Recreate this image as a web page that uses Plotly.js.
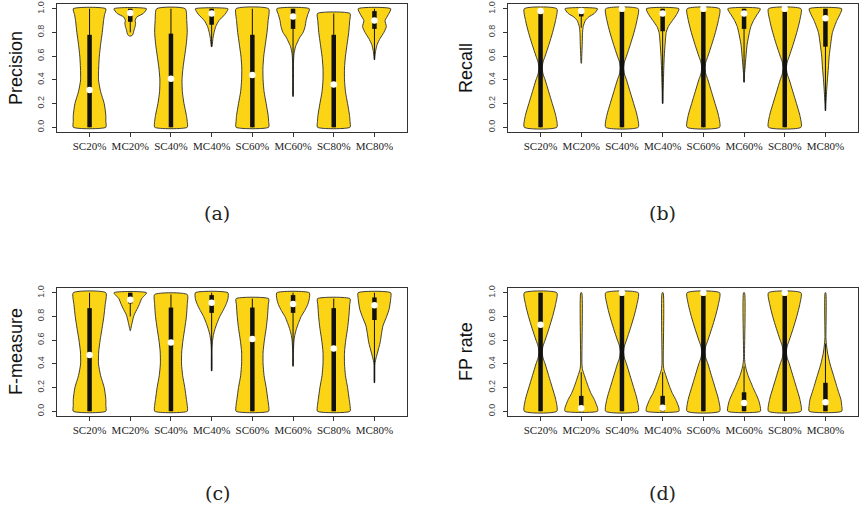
<!DOCTYPE html>
<html>
<head>
<meta charset="utf-8">
<script src="https://cdn.plot.ly/plotly-3.0.1.min.js"></script>
<style>html,body{margin:0;padding:0;background:#fff;}#chart{width:860px;height:512px;}</style>
</head>
<body>
<div id="chart"></div>
<script>
// ---------- data ----------
const categories = ['SC20%','MC20%','SC40%','MC40%','SC60%','MC60%','SC80%','MC80%'];
const yTicks = [0, 0.2, 0.4, 0.6, 0.8, 1.0];
const yTickText = ['0.0','0.2','0.4','0.6','0.8','1.0'];
const panelTitles = ['Precision','Recall','F-measure','FP rate'];
const panelLabels = ['(a)','(b)','(c)','(d)'];

// (a) Precision: density profile levels and relative widths per violin
const precLevels = [
  [0,0.05,0.1,0.2,0.3,0.4,0.5,0.6,0.7,0.8,0.9,0.95,1.0],
  [0.77,0.78,0.8,0.82,0.85,0.88,0.9,0.93,0.96,1.0],
  [0,0.05,0.1,0.2,0.3,0.4,0.5,0.6,0.7,0.8,0.9,1.0],
  [0.68,0.7,0.75,0.8,0.85,0.9,0.95,0.98,1.0],
  [0,0.05,0.1,0.2,0.3,0.4,0.5,0.6,0.7,0.8,0.9,1.0],
  [0.26,0.4,0.55,0.62,0.68,0.72,0.76,0.8,0.85,0.9,0.95,1.0],
  [0,0.05,0.1,0.2,0.3,0.4,0.5,0.6,0.7,0.8,0.9,0.96],
  [0.57,0.6,0.65,0.7,0.75,0.8,0.85,0.9,0.95,1.0]
];
const precWidths = [
  [1,1,1,0.9,0.68,0.55,0.56,0.6,0.68,0.78,0.86,0.92,1.0],
  [0.05,0.15,0.2,0.23,0.3,0.33,0.3,0.4,0.8,1.0],
  [1,1,0.95,0.8,0.7,0.68,0.74,0.84,0.94,1.0,0.97,0.88],
  [0.02,0.04,0.08,0.15,0.25,0.45,0.8,0.95,1.0],
  [1,1,0.97,0.85,0.72,0.66,0.65,0.7,0.8,0.9,0.97,1.0],
  [0.01,0.02,0.03,0.06,0.15,0.28,0.42,0.62,0.74,0.8,0.9,1.0],
  [1,1,0.97,0.85,0.72,0.66,0.66,0.72,0.82,0.92,0.98,1.0],
  [0.01,0.03,0.08,0.17,0.35,0.58,0.73,0.65,0.85,1.0]
];
const precQ1 = [0,0.89,0,0.865,0,0.83,0,0.83];
const precQ3 = [0.78,1.0,0.79,1.0,0.78,1.0,0.78,0.98];
const precMed = [0.315,0.965,0.41,0.96,0.44,0.935,0.36,0.9];
const precWhLo = [0,0.8,0,0.68,0,0.26,0,0.57];
const precWhHi = [1.0,1.0,1.0,1.0,1.0,1.0,0.96,1.0];

// (b) Recall
const recLevels = [
  [0,0.1,0.2,0.3,0.4,0.45,0.5,0.55,0.6,0.7,0.8,0.9,1.0],
  [0.54,0.6,0.7,0.8,0.85,0.9,0.93,0.96,1.0],
  [0,0.1,0.2,0.3,0.4,0.45,0.5,0.55,0.6,0.7,0.8,0.9,1.0],
  [0.2,0.3,0.4,0.5,0.6,0.7,0.8,0.85,0.9,0.95,1.0],
  [0,0.1,0.2,0.3,0.4,0.45,0.5,0.55,0.6,0.7,0.8,0.9,1.0],
  [0.38,0.45,0.5,0.6,0.7,0.8,0.85,0.9,0.95,1.0],
  [0,0.1,0.2,0.3,0.4,0.45,0.5,0.55,0.6,0.7,0.8,0.9,1.0],
  [0.14,0.2,0.3,0.4,0.5,0.6,0.7,0.8,0.9,0.95,1.0]
];
const recWidths = [
  [1,0.93,0.72,0.5,0.28,0.15,0.1,0.15,0.28,0.52,0.74,0.92,1.0],
  [0.01,0.03,0.06,0.08,0.12,0.25,0.45,0.8,1.0],
  [1,0.93,0.72,0.5,0.28,0.15,0.1,0.15,0.28,0.52,0.74,0.92,1.0],
  [0.01,0.03,0.05,0.07,0.1,0.15,0.22,0.35,0.6,0.85,1.0],
  [1,0.93,0.72,0.5,0.28,0.15,0.1,0.15,0.28,0.52,0.74,0.92,1.0],
  [0.01,0.03,0.06,0.12,0.19,0.33,0.42,0.58,0.8,1.0],
  [1,0.93,0.72,0.5,0.28,0.15,0.1,0.15,0.28,0.52,0.74,0.92,1.0],
  [0.01,0.03,0.07,0.12,0.18,0.23,0.32,0.43,0.7,0.88,1.0]
];
const recQ1 = [0,0.935,0,0.81,0,0.83,0,0.68];
const recQ3 = [0.97,0.97,0.975,1.0,0.975,1.0,0.975,1.0];
const recMed = [0.98,0.98,1.0,0.96,1.0,0.96,1.0,0.92];
const recWhLo = [0,0.84,0,0.2,0,0.38,0,0.14];
const recWhHi = [1.0,1.0,1.0,1.0,1.0,1.0,1.0,1.0];

// (c) F-measure
const fmLevels = [
  [0,0.05,0.1,0.2,0.3,0.4,0.5,0.6,0.7,0.8,0.9,1.0],
  [0.68,0.7,0.75,0.81,0.87,0.9,0.95,1.0],
  [0,0.05,0.1,0.2,0.3,0.4,0.5,0.6,0.7,0.8,0.9,0.985],
  [0.34,0.5,0.55,0.6,0.65,0.7,0.75,0.8,0.85,0.9,0.95,1.0],
  [0,0.05,0.1,0.2,0.3,0.4,0.5,0.6,0.7,0.8,0.9,0.95],
  [0.38,0.5,0.6,0.65,0.7,0.75,0.8,0.85,0.9,0.95,1.0],
  [0,0.05,0.1,0.2,0.3,0.4,0.5,0.6,0.7,0.8,0.9,0.95],
  [0.24,0.4,0.45,0.5,0.58,0.65,0.72,0.8,0.86,0.95,1.0]
];
const fmWidths = [
  [1,1,1,0.9,0.68,0.55,0.56,0.65,0.77,0.88,0.96,1.0],
  [0.01,0.04,0.12,0.23,0.45,0.55,0.7,1.0],
  [1,1,0.95,0.85,0.72,0.65,0.66,0.74,0.85,0.95,1,1],
  [0.01,0.02,0.03,0.06,0.12,0.22,0.35,0.5,0.7,0.88,1.0,1.0],
  [1,1,0.95,0.85,0.72,0.66,0.66,0.74,0.85,0.93,0.98,1.0],
  [0.01,0.02,0.06,0.12,0.22,0.35,0.5,0.72,0.9,1.0,1.0],
  [1,1,0.95,0.85,0.72,0.66,0.66,0.74,0.85,0.93,0.98,1.0],
  [0.01,0.03,0.1,0.2,0.35,0.43,0.52,0.75,0.9,1.0,1.0]
];
const fmQ1 = [0,0.91,0,0.83,0,0.83,0,0.77];
const fmQ3 = [0.87,1.0,0.875,0.98,0.875,0.98,0.87,0.96];
const fmMed = [0.475,0.94,0.58,0.915,0.61,0.905,0.53,0.895];
const fmWhLo = [0,0.8,0,0.34,0,0.38,0,0.24];
const fmWhHi = [1.0,1.0,0.985,1.0,0.95,1.0,0.95,1.0];

// (d) FP rate
const fpLevels = [
  [0,0.1,0.2,0.3,0.4,0.45,0.5,0.55,0.6,0.7,0.8,0.9,1.0],
  [0,0.03,0.06,0.1,0.15,0.2,0.25,0.3,0.35,0.4,1.0],
  [0,0.1,0.2,0.3,0.4,0.45,0.5,0.55,0.6,0.7,0.8,0.9,1.0],
  [0,0.03,0.06,0.1,0.15,0.2,0.25,0.3,0.35,0.4,1.0],
  [0,0.1,0.2,0.3,0.4,0.45,0.5,0.55,0.6,0.7,0.8,0.9,1.0],
  [0,0.05,0.1,0.15,0.2,0.25,0.3,0.35,0.4,0.45,1.0],
  [0,0.1,0.2,0.3,0.4,0.45,0.5,0.55,0.6,0.7,0.8,0.9,1.0],
  [0,0.05,0.1,0.16,0.2,0.3,0.4,0.5,0.58,0.62,1.0]
];
const fpWidths = [
  [1,0.93,0.72,0.5,0.28,0.15,0.1,0.15,0.28,0.52,0.74,0.92,1.0],
  [1,1,0.92,0.8,0.6,0.45,0.32,0.2,0.08,0.04,0.03],
  [1,0.93,0.72,0.5,0.28,0.15,0.1,0.15,0.28,0.52,0.74,0.92,1.0],
  [1,1,0.92,0.8,0.6,0.45,0.32,0.2,0.08,0.04,0.03],
  [1,0.93,0.72,0.5,0.28,0.15,0.1,0.15,0.28,0.52,0.74,0.92,1.0],
  [1,0.98,0.88,0.72,0.55,0.4,0.25,0.14,0.06,0.03,0.03],
  [1,0.93,0.72,0.5,0.28,0.15,0.1,0.15,0.28,0.52,0.74,0.92,1.0],
  [1,1,0.95,0.81,0.72,0.5,0.28,0.12,0.05,0.03,0.02]
];
const fpQ1 = [0,0,0,0,0,0,0,0];
const fpQ3 = [1.0,0.13,0.975,0.13,0.975,0.16,0.975,0.24];
const fpMed = [0.73,0.025,1.0,0.03,1.0,0.07,1.0,0.075];
const fpWhLo = [0,0,0,0,0,0,0,0];
const fpWhHi = [1.0,0.33,1.0,0.33,1.0,0.38,1.0,0.57];

// ---------- build ----------
const panels = [
  {L:precLevels, W:precWidths, q1:precQ1, q3:precQ3, med:precMed, wl:precWhLo, wh:precWhHi},
  {L:recLevels, W:recWidths, q1:recQ1, q3:recQ3, med:recMed, wl:recWhLo, wh:recWhHi},
  {L:fmLevels, W:fmWidths, q1:fmQ1, q3:fmQ3, med:fmMed, wl:fmWhLo, wh:fmWhHi},
  {L:fpLevels, W:fpWidths, q1:fpQ1, q3:fpQ3, med:fpMed, wl:fpWhLo, wh:fpWhHi}
];
const W = 860, H = 512;
const boxes = [ // pixel boxes [left, right, top, bottom]
  [57, 407, 4, 132], [508, 858, 4, 132], [57, 407, 288, 416], [508, 858, 288, 416]
];
const titlePos = [[16, 68], [466, 68], [16, 352], [466, 352]];
const labelPos = [[217, 213], [662, 213], [217, 493], [662, 493]];
const FILL = '#FCD416';
const HALF = 0.4;

const traces = [];
const layout = {
  width: W, height: H, margin: {l:0, r:0, t:0, b:0},
  paper_bgcolor: '#fff', plot_bgcolor: '#fff', showlegend: false,
  annotations: []
};
panels.forEach((p, k) => {
  const xa = k === 0 ? 'x' : 'x' + (k + 1);
  const ya = k === 0 ? 'y' : 'y' + (k + 1);
  const xpos = categories.map((c, i) => i + 1);
  categories.forEach((c, i) => {
    const cx = xpos[i];
    const lv = p.L[i], wd = p.W[i];
    const xs = [], ys = [];
    for (let j = 0; j < lv.length; j++) { xs.push(cx + HALF * wd[j]); ys.push(lv[j]); }
    for (let j = lv.length - 1; j >= 0; j--) { xs.push(cx - HALF * wd[j]); ys.push(lv[j]); }
    xs.push(xs[0]); ys.push(ys[0]);
    traces.push({type:'scatter', mode:'lines', x:xs, y:ys, xaxis:xa, yaxis:ya,
      fill:'toself', fillcolor:FILL, line:{color:'#2a2a2a', width:0.9, shape:'spline', smoothing:0.6},
      hoverinfo:'skip'});
  });
  // whiskers
  const wx = [], wy = [], bx = [], by = [];
  categories.forEach((c, i) => {
    wx.push(xpos[i], xpos[i], null); wy.push(p.wl[i], p.wh[i], null);
    bx.push(xpos[i], xpos[i], null); by.push(p.q1[i], p.q3[i], null);
  });
  traces.push({type:'scatter', mode:'lines', x:wx, y:wy, xaxis:xa, yaxis:ya,
    line:{color:'#111', width:1}, hoverinfo:'skip'});
  traces.push({type:'scatter', mode:'lines', x:bx, y:by, xaxis:xa, yaxis:ya,
    line:{color:'#111', width:4.5}, hoverinfo:'skip'});
  traces.push({type:'scatter', mode:'markers', x:xpos, y:p.med, xaxis:xa, yaxis:ya,
    marker:{color:'#fff', size:6.5, line:{width:0}}, cliponaxis:false, hoverinfo:'skip'});

  const b = boxes[k];
  const xKey = k === 0 ? 'xaxis' : 'xaxis' + (k + 1);
  const yKey = k === 0 ? 'yaxis' : 'yaxis' + (k + 1);
  layout[xKey] = {
    domain:[b[0] / W, b[1] / W], anchor: ya, range:[0.2, 8.8],
    tickmode:'array', tickvals: xpos, ticktext: categories,
    ticks:'outside', ticklen:4, tickcolor:'#333', tickwidth:1,
    showline:true, mirror:true, linecolor:'#333', linewidth:1.2,
    showgrid:false, zeroline:false,
    tickfont:{family:'Liberation Serif, Times New Roman, serif', size:11, color:'#222'}
  };
  layout[yKey] = {
    domain:[1 - b[3] / H, 1 - b[2] / H], anchor: xa, range:[-0.04, 1.04],
    tickmode:'array', tickvals: yTicks, ticktext: yTickText, tickangle:-90,
    ticks:'outside', ticklen:4, tickcolor:'#333', tickwidth:1, ticklabelstandoff:4,
    showline:true, mirror:true, linecolor:'#333', linewidth:1.2,
    showgrid:false, zeroline:false,
    tickfont:{family:'Liberation Sans, Arial, sans-serif', size:9, color:'#444'}
  };
  layout.annotations.push({
    xref:'paper', yref:'paper', x: titlePos[k][0] / W, y: 1 - titlePos[k][1] / H,
    xanchor:'center', yanchor:'middle', textangle:-90, showarrow:false,
    text: panelTitles[k], font:{family:'Liberation Sans, Arial, sans-serif', size:18, color:'#111'}
  });
  layout.annotations.push({
    xref:'paper', yref:'paper', x: labelPos[k][0] / W, y: 1 - labelPos[k][1] / H,
    xanchor:'center', yanchor:'middle', showarrow:false,
    text: panelLabels[k], font:{family:'DejaVu Serif, Liberation Serif, serif', size:19, color:'#222'}
  });
});

Plotly.newPlot('chart', traces, layout, {staticPlot:true, displayModeBar:false});
</script>
</body>
</html>
